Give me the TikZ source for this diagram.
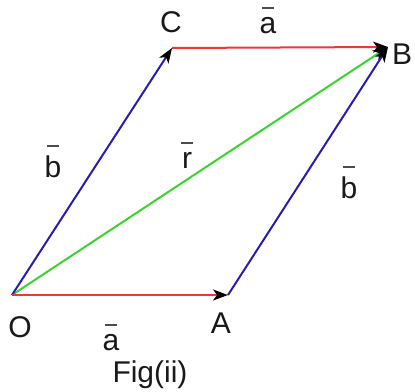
\documentclass[tikz,border=0pt]{standalone}
\usepackage{fontspec}
\setmainfont{Liberation Sans}
\usetikzlibrary{arrows.meta}
\definecolor{vred}{RGB}{232,56,56}
\definecolor{vblue}{RGB}{40,30,170}
\definecolor{vgreen}{RGB}{60,210,50}
\newcommand\ovbar[1]{\setbox0\hbox{#1}\vbox{\offinterlineskip\hbox to\wd0{\hss\color{black!70}\vrule width 12pt height 1.8pt\hss}\kern 8pt\box0}}
\tikzset{
  vec/.style={line width=2pt,-{Stealth[length=15pt,width=11pt,inset=4pt,black]}},
  lbl/.style={anchor=base,inner sep=0pt,font=\fontsize{30}{32}\selectfont,text=black!90}
}
\begin{document}
\begin{tikzpicture}[x=1pt,y=-1pt]
\useasboundingbox (0,0) rectangle (415,391);
\coordinate (O) at (12,295);
\coordinate (A) at (228,295);
\coordinate (C) at (172,48);
\coordinate (B) at (388,47);
\draw[vec,vgreen] (O) -- (B);
\draw[vec,vblue] (O) -- (C);
\draw[vec,vblue] (A) -- (B);
\draw[vec,vred] (O) -- (A);
\draw[vec,vred] (C) -- (B);
\node[lbl] (lO) at (20,337) {O};
\node[lbl] (lA) at (221,333) {A};
\node[lbl] (lC) at (171,32) {C};
\node[lbl] (lB) at (402,64) {B};
\node[lbl] (la1) at (111,350) {\ovbar{a}};
\node[lbl] (la2) at (268,33) {\ovbar{a}};
\node[lbl] (lb1) at (53,177) {\ovbar{b}};
\node[lbl] (lb2) at (349,198) {\ovbar{b}};
\node[lbl] (lr) at (187,168) {\ovbar{r}};
\node[lbl] (fig) at (150,382) {Fig(ii)};
\end{tikzpicture}
\end{document}
